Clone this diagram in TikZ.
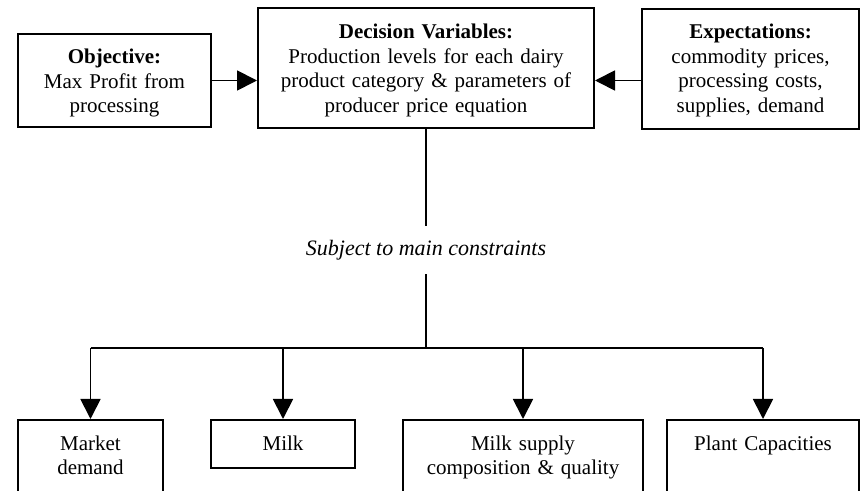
\documentclass[tikz,border=0pt]{standalone}
\usepackage{fontspec}
\setmainfont{Liberation Serif}
\usetikzlibrary{arrows.meta}
\tikzset{box/.style={draw,line width=1pt,align=center,anchor=north,inner xsep=2pt,inner ysep=0pt,text height=15.25pt}}
\tikzset{link/.style={line width=0.9pt}}

\begin{document}
\begin{tikzpicture}[x=0.5pt,y=-0.5pt,font=\fontsize{10.5}{12.25}\selectfont,
    >={Triangle[length=10pt,width=10pt]}]
      \useasboundingbox (0,0) rectangle (867,491);
      \node[box,text width=92.5pt,text height=15pt,text depth=31.5pt] (obj) at (114.5,33)
        {\textbf{Objective:}\\Max Profit from\\processing};
      \node[box,text width=164pt,text height=15.5pt,text depth=44.5pt] (dec) at (426,7)
        {\textbf{Decision Variables:}\\Production levels for each dairy\\product category \& parameters of\\producer price equation};
      \node[box,text width=104.5pt,text height=15pt,text depth=45pt] (exp) at (750.5,8)
        {\textbf{Expectations:}\\commodity prices,\\processing costs,\\supplies, demand};
      \node[inner ysep=7pt,font=\fontsize{11}{12.25}\selectfont\itshape] (sub) at (426,250)
        {Subject to main constraints};
      \coordinate (split) at (426,348);

      \node[box,text width=68.5pt,text depth=40pt] (md) at (90.5,419) {Market\\demand};
      \node[box,text width=68pt,text depth=8.5pt] (milk) at (283,419) {Milk};
      \node[box,text width=116pt,text depth=40pt] (ms) at (523,419) {Milk supply\\composition \& quality};
      \node[box,text width=92pt,text depth=40pt] (pc) at (763,419) {Plant Capacities};

      \draw[link,->] (obj.east) -- (obj.east -| dec.west);
      \draw[link,->] (exp.west |- obj.east) -- (dec.east |- obj.east);
      \draw[link] (dec) -- (sub);
      \draw[link] (sub) -- (split);
      \draw[link] (md.north |- split) -- (pc.north |- split);
      \foreach \n in {md,milk,ms,pc}
        \draw[link,->] (\n.north |- split) -- (\n.north);
    \end{tikzpicture}
\end{document}
